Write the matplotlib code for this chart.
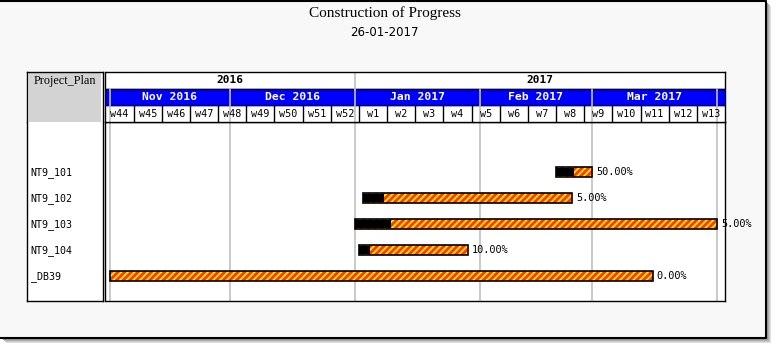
import matplotlib
matplotlib.use("Agg")
import matplotlib.pyplot as plt
import matplotlib.dates as mdates
import matplotlib.transforms as mtransforms
import pandas as pd
from matplotlib.patches import Rectangle

W, H = 783, 356

# ── Datos ────────────────────────────────────────────────────────────────────
tasks = ["NT9_101", "NT9_102", "NT9_103", "NT9_104", "_DB39"]
starts = ["2017-02-20", "2017-01-03", "2017-01-01", "2017-01-02", "2016-11-01"]
ends = ["2017-02-28", "2017-02-23", "2017-03-31", "2017-01-28", "2017-03-15"]
progress = [0.50, 0.10, 0.10, 0.10, 0.0]
captions = ["50.00%", "5.00%", "5.00%", "10.00%", "0.00%"]

scale_start = "2016-10-31"
scale_end = "2017-04-02"

title = "Construction of Progress"
subtitle = "26-01-2017"
col_header = "Project_Plan"

BLUE = "#0000ff"
GRID = "#c0c0c0"
BAR_RED = "#ff3a00"
BAR_YEL = "#ffee00"
MONO = "DejaVu Sans Mono"
LW = 1.0

plt.rcParams["hatch.linewidth"] = 1.3


def box(x0, y0, x1, y1):
    return [x0 / W, 1 - y1 / H, (x1 - x0) / W, (y1 - y0) / H]


fig = plt.figure(figsize=(W / 100, H / 100), dpi=100, facecolor="white")

# ── Marco y sombra ───────────────────────────────────────────────────────────
bg = fig.add_axes([0, 0, 1, 1])
bg.set_xlim(0, W)
bg.set_ylim(H, 0)
bg.axis("off")
for k, c in enumerate(["#e0e0e0", "#c8c8c8", "#b0b0b0", "#989898", "#808080"]):
    off = 6 - k
    bg.add_patch(Rectangle((off, off), 765, 337, fc=c, ec="none"))
bg.add_patch(Rectangle((0, 0), 765.5, 337.5, fc="#f8f8f8", ec="none"))
bg.plot([0, 765.5, 765.5, 0], [0.8, 0.8, 337.5, 337.5], color="black", lw=1.5)
bg.text(385, 13, title, ha="center", va="center", fontsize=11,
        family="Liberation Serif")
bg.text(384, 32, subtitle, ha="center", va="center", fontsize=8.5,
        family="DejaVu Sans")

# ── Escala de tiempo ─────────────────────────────────────────────────────────
t0 = pd.Timestamp(scale_start)
t1 = pd.Timestamp(scale_end) + pd.Timedelta(days=1)
x0, x1 = mdates.date2num(t0), mdates.date2num(t1)

month_starts = pd.date_range(t0, t1, freq="MS")
week_starts = pd.date_range(t0, t1 - pd.Timedelta(days=1), freq="W-MON")
year_starts = pd.date_range(t0, t1, freq="YS")

# filas: 26 px de paso, primera fila centrada en y=172
pitch = 26.0
row0 = 172.3
ylo = (122 - row0) / pitch
yhi = (301 - row0) / pitch

ax = fig.add_axes(box(105.5, 122, 725, 301))
ax.set_xlim(x0, x1)
ax.set_ylim(yhi, ylo)
ax.set_xticks([])
ax.set_yticks([])
ax.set_facecolor("white")
for s in ax.spines.values():
    s.set_linewidth(LW)

for m in month_starts:
    if x0 < mdates.date2num(m) < x1:
        ax.axvline(mdates.date2num(m), color=GRID, lw=1.2, zorder=0)

bar_h = 10 / pitch
for i, (name, s, e, p, cap) in enumerate(zip(tasks, starts, ends, progress, captions)):
    left = mdates.date2num(pd.Timestamp(s))
    right = mdates.date2num(pd.Timestamp(e) + pd.Timedelta(days=1))
    width = right - left
    ax.barh(i, width, left=left, height=bar_h, color=BAR_RED,
            edgecolor=BAR_YEL, hatch="/////", linewidth=0, zorder=2)
    if p > 0:
        ax.barh(i, width * p, left=left, height=bar_h * 0.8, color="black",
                linewidth=0, zorder=3)
    ax.barh(i, width, left=left, height=bar_h, fill=False,
            edgecolor="black", linewidth=1.2, zorder=4)
    ax.annotate(cap, (right, i), xytext=(3, 0), textcoords="offset points",
                ha="left", va="center", fontsize=7.4, family=MONO,
                annotation_clip=False, zorder=5)

# ── Cabecera: años / meses / semanas ─────────────────────────────────────────
hx = fig.add_axes(box(105.5, 72, 725, 122), sharex=ax)
hx.set_ylim(3, 0)
hx.set_xticks([])
hx.set_yticks([])
hx.set_facecolor("white")
for s in hx.spines.values():
    s.set_linewidth(LW)
hx.axhspan(1, 2, color=BLUE, zorder=0)
hx.axhline(1, color="black", lw=LW)
hx.axhline(2, color="black", lw=LW)

for w in week_starts:
    xw = mdates.date2num(w)
    if xw > x0:
        hx.plot([xw, xw], [2, 3], color="black", lw=LW)
    xc = mdates.date2num(w + pd.Timedelta(days=3.5))
    hx.text(xc, 2.5, f"w{w.isocalendar().week}", ha="center", va="center",
            fontsize=7.3, family=MONO)

for m in month_starts:
    xm = mdates.date2num(m)
    if x0 < xm < x1:
        hx.plot([xm, xm], [1, 3], color=GRID, lw=1.2)
        nxt = m + pd.offsets.MonthBegin(1)
        if nxt <= t1:
            xc = (xm + mdates.date2num(nxt)) / 2
            hx.text(xc, 1.5, m.strftime("%b %Y"), ha="center", va="center",
                    fontsize=8.2, family=MONO, weight="bold", color="white")

year_edges = [x0] + [mdates.date2num(y) for y in year_starts] + [x1]
for a, b in zip(year_edges[:-1], year_edges[1:]):
    if a > x0:
        hx.plot([a, a], [0, 1], color=GRID, lw=1.2)
    yr = mdates.num2date((a + b) / 2).year
    hx.text((a + b) / 2, 0.5, str(yr), ha="center", va="center",
            fontsize=8, family=MONO, weight="bold")

# ── Columna izquierda ────────────────────────────────────────────────────────
lh = fig.add_axes(box(27, 72, 103, 122))
lh.set_xticks([])
lh.set_yticks([])
lh.set_facecolor("white")
lh.add_patch(Rectangle((0.025, 0.0), 0.95, 0.98, transform=lh.transAxes,
                       fc="#d3d3d3", ec="none"))
lh.spines["bottom"].set_visible(False)
for s in lh.spines.values():
    s.set_linewidth(LW)
lh.text(0.5, 0.82, col_header, transform=lh.transAxes, ha="center",
        va="center", fontsize=8.7, family="Liberation Serif")

lb = fig.add_axes(box(27, 122, 103, 301), sharey=ax)
lb.set_xticks([])
lb.tick_params(left=False, labelleft=False)
lb.set_facecolor("white")
lb.spines["top"].set_visible(False)
for s in lb.spines.values():
    s.set_linewidth(LW)
trans = mtransforms.blended_transform_factory(lb.transAxes, lb.transData)
for i, name in enumerate(tasks):
    lb.text(0.05, i, name, transform=trans, ha="left", va="center",
            fontsize=7.2, family=MONO)

fig.savefig("out.png", dpi=100)
